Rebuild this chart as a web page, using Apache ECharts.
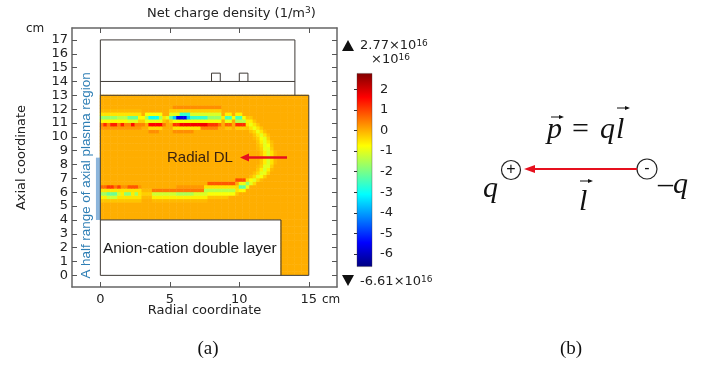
<!DOCTYPE html>
<html>
<head>
<meta charset="utf-8">
<script src="https://cdn.jsdelivr.net/npm/echarts@6/dist/echarts.min.js"></script>
<style>
html,body{margin:0;padding:0;background:#fff;}
#main{width:701px;height:365px;}
</style>
</head>
<body>
<div id="main"></div>
<script>
// tick labels
var yTicks = [0,1,2,3,4,5,6,7,8,9,10,11,12,13,14,15,16,17];
var xTicks = [0,5,10,15];
var barTicks = [-6,-5,-4,-3,-2,-1,0,1,2];

// field limits (from the colour legend), background is zero charge
var fieldMin = -6.61;
var fieldMax = 2.77;
var background = 0;

// mesh is 0.25 cm: 60 columns, 52 rows, bottom-left is row 0 col 0
var colCount = 60;
var rowCount = 52;

// values: [row, fromCol, toCol, value]
var topBand = [
  [48,21,34,0.3],
  [47,0,11,-0.1],[47,20,34,-0.3],
  [46,0,11,-0.5],[46,13,17,-0.8],[46,20,22,-1],[46,23,25,-2.6],[46,26,34,-1.1],[46,36,37,-0.6],[46,39,40,-0.6],
  [45,0,4,-1.7],[45,5,7,-1.4],[45,8,10,-2.1],[45,11,12,-0.7],[45,13,13,-1.5],[45,14,16,-3],[45,17,17,-1.5],[45,18,18,-0.5],
  [45,19,19,-1],[45,20,20,-2.3],[45,21,21,-3.6],[45,22,24,-5.6],[45,25,25,-3.6],[45,26,30,-2.6],[45,31,34,-1.7],[45,35,35,-0.6],
  [45,36,37,-2.4],[45,38,38,-0.8],[45,39,40,-2.4],[45,41,41,-0.8],
  [44,0,3,-0.7],[44,4,7,-0.7],[44,8,10,-1],[44,11,12,-0.3],[44,13,17,-0.9],[44,18,18,-0.2],[44,20,20,-0.4],[44,21,34,-0.8],[44,36,37,-0.9],[44,39,41,-1.4],
  [43,0,12,0.4],[43,1,1,1.2],[43,3,4,1.3],[43,6,6,1.3],[43,9,9,1.5],[43,14,17,1.6],[43,18,18,0.5],[43,21,22,1.1],[43,23,30,1.7],
  [43,31,33,1.1],[43,34,34,0.6],[43,36,37,0.7],[43,39,41,1.2],
  [42,0,11,0.2],[42,14,17,-0.4],[42,21,28,-0.5],[42,29,33,0.4],[42,36,37,-0.2],[42,39,41,-0.3],
  [41,14,16,0.3],[41,21,26,0.3]
];
var arcBand = [
  [45,42,43,-0.2],
  [44,42,43,-0.6],[44,44,44,-0.2],
  [43,42,42,-0.5],[43,43,43,-0.9],[43,44,44,-0.5],[43,45,45,-0.2],
  [42,42,42,-0.2],[42,43,43,-0.5],[42,44,44,-0.9],[42,45,45,-0.5],[42,46,46,-0.2],
  [41,43,43,-0.2],[41,44,44,-0.4],[41,45,45,-0.9],[41,46,46,-0.5],[41,47,47,-0.15],
  [40,44,44,-0.2],[40,45,45,-0.5],[40,46,46,-1],[40,47,47,-0.5],[40,48,48,-0.15],
  [39,44,44,-0.1],[39,45,45,-0.3],[39,46,46,-0.8],[39,47,47,-1],[39,48,48,-0.3],
  [38,45,45,-0.2],[38,46,46,-0.6],[38,47,47,-1],[38,48,48,-0.5],[38,49,49,-0.15],
  [37,45,45,-0.15],[37,46,46,-0.4],[37,47,47,-1],[37,48,48,-0.8],[37,49,49,-0.2],
  [36,45,45,-0.1],[36,46,46,-0.3],[36,47,47,-0.9],[36,48,48,-1],[36,49,49,-0.3],
  [35,46,46,-0.2],[35,47,47,-0.6],[35,48,48,-1.1],[35,49,49,-0.5],[35,50,50,-0.1],
  [34,46,46,-0.2],[34,47,47,-0.6],[34,48,48,-1.1],[34,49,49,-0.5],[34,50,50,-0.1],
  [33,46,46,-0.2],[33,47,47,-0.6],[33,48,48,-1.1],[33,49,49,-0.5],[33,50,50,-0.1],
  [32,46,46,-0.2],[32,47,47,-0.6],[32,48,48,-1.1],[32,49,49,-0.5],[32,50,50,-0.1],
  [31,45,45,-0.1],[31,46,46,-0.3],[31,47,47,-1],[31,48,48,-1],[31,49,49,-0.3],
  [30,45,45,-0.2],[30,46,46,-0.6],[30,47,47,-1.1],[30,48,48,-0.6],[30,49,49,-0.1],
  [29,44,44,-0.15],[29,45,45,-0.4],[29,46,46,-1],[29,47,47,-0.9],[29,48,48,-0.3],
  [28,43,43,-0.15],[28,44,44,-0.4],[28,45,45,-1],[28,46,46,-0.8],[28,47,47,-0.3],
  [27,39,41,0.9],[27,42,42,-0.4],[27,43,43,-0.8],[27,44,44,-1],[27,45,45,-0.4],[27,46,46,-0.1]
];
var bottomBand = [
  [26,31,38,0.8],[26,40,41,-0.9],[26,42,42,-1.7],[26,43,43,-1],[26,44,44,-0.4],
  [25,0,1,0.6],[25,2,3,1.1],[25,4,4,0.5],[25,5,5,1],[25,6,7,0.3],[25,8,10,0.8],[25,11,11,0.2],[25,22,29,0.2],[25,30,38,-0.5],[25,39,39,-0.4],[25,40,41,-2.2],[25,42,42,-0.9],
  [24,0,11,-0.5],[24,12,14,-0.1],[24,15,29,0.5],[24,30,38,-1.4],[24,39,39,-0.5],[24,40,41,-0.7],
  [23,0,1,-1.6],[23,2,4,-2.1],[23,5,5,-1.2],[23,6,6,-0.6],[23,7,8,-1.8],[23,9,9,-0.6],[23,10,10,-1.6],[23,11,11,-0.5],[23,12,14,-0.3],
  [23,15,21,-1.2],[23,22,26,-1.5],[23,27,30,-1.1],[23,31,38,-0.8],[23,39,39,-0.2],
  [22,0,1,-0.6],[22,2,4,-1.2],[22,5,11,-0.5],[22,12,14,-0.1],[22,15,30,-0.6],[22,31,36,-0.2],
  [21,0,11,-0.2],[21,15,30,-0.1]
];

// geometry outlines in cm
var chamberBox = [[0,13],[0,17],[14,17],[14,13]];
var chamberFloor = [[0,14],[14,14]];
var tabLeft = [[8,14],[8,14.6],[8.63,14.6],[8.63,14]];
var tabRight = [[10,14],[10,14.6],[10.62,14.6],[10.62,14]];
var plasmaOutline = [[0,4],[0,13],[15,13],[15,0],[0,0],[0,4],[13,4],[13,0]];
var halfRange = [[-0.16,4],[-0.16,8.5]];

var jet = ['#000080','#0000ff','#0080ff','#00ffff','#80ff80','#ffff00','#ff8000','#ff0000','#800000'];

function buildField() {
  var grid = [], r, c;
  for (r = 0; r < rowCount; r++) {
    grid.push([]);
    for (c = 0; c < colCount; c++) grid[r].push(background);
  }
  topBand.concat(arcBand, bottomBand).forEach(function (run) {
    for (var k = run[1]; k <= run[2]; k++) grid[run[0]][k] = run[3];
  });
  var out = [];
  for (r = 0; r < rowCount; r++) {
    for (c = 0; c < colCount; c++) {
      // the double layer box (x<13, y<4) is not part of the plasma domain
      if (c < 52 && r < 16) continue;
      out.push([c, r, grid[r][c]]);
    }
  }
  return out;
}

function seq(n) {
  var a = [];
  for (var i = 0; i < n; i++) a.push(i);
  return a;
}

function outline(data) {
  return {
    type: 'line', xAxisIndex: 1, yAxisIndex: 1, data: data, symbol: 'none', z: 5,
    clip: false, silent: true, animation: false,
    lineStyle: {color: '#3f3a36', width: 1}
  };
}

// small arrow over the maths letters
function overArrow(x, y, len) {
  return [
    {type: 'line', shape: {x1: x, y1: y, x2: x + len - 3, y2: y}, style: {stroke: '#111', lineWidth: 1}},
    {type: 'polygon', shape: {points: [[x + len, y], [x + len - 5, y - 2], [x + len - 5, y + 2]]}, style: {fill: '#111'}}
  ];
}

function redArrow(x1, x2, y, w, hl, hw) {
  return [
    {type: 'line', shape: {x1: x1, y1: y, x2: x2 + hl - 1, y2: y}, style: {stroke: '#e6101e', lineWidth: w}},
    {type: 'polygon', shape: {points: [[x2, y], [x2 + hl, y - hw], [x2 + hl, y + hw]]}, style: {fill: '#e6101e'}}
  ];
}

function label(x, y, text, size, extra) {
  var st = {x: x, y: y, text: text, fill: '#222', font: size + 'px "DejaVu Sans"', textVerticalAlign: 'middle'};
  for (var k in (extra || {})) st[k] = extra[k];
  return {type: 'text', style: st};
}

function serif(x, y, text, size, italic, align) {
  return {type: 'text', style: {
    x: x, y: y, text: text, fill: '#111', textAlign: align || 'left', textVerticalAlign: 'bottom',
    font: (italic ? 'italic ' : '') + size + 'px "Liberation Serif"'
  }};
}

var supRich = {
  a: {fontFamily: 'DejaVu Sans', fontSize: 13, fill: '#222', color: '#222'},
  b: {fontFamily: 'DejaVu Sans', fontSize: 9, fill: '#222', color: '#222', verticalAlign: 'top', lineHeight: 8, padding: [0,0,6,0]}
};

var myChart = echarts.init(document.getElementById('main'), null, {renderer: 'canvas'});

var jetStops = jet.map(function (c, i) {
  return {offset: 1 - i / (jet.length - 1), color: c};
}).reverse();

var graphics = [
  label(26, 29, 'cm', 12),
  label(322, 300, 'cm', 12),
  {type: 'rect', shape: {x: 357, y: 73.4, width: 15, height: 193.2},
    style: {fill: new echarts.graphic.LinearGradient(0, 0, 0, 1, jetStops), stroke: 'rgba(70,60,60,0.6)', lineWidth: 0.6}},
  {type: 'text', style: {x: 360, y: 46, text: '{a|2.77×10}{b|16}', rich: supRich, textVerticalAlign: 'middle'}},
  {type: 'text', style: {x: 371, y: 60, text: '{a|×10}{b|16}', rich: supRich, textVerticalAlign: 'middle'}},
  {type: 'text', style: {x: 360, y: 282, text: '{a|-6.61×10}{b|16}', rich: supRich, textVerticalAlign: 'middle'}},
  {type: 'polygon', shape: {points: [[348,40],[342,51],[354,51]]}, style: {fill: '#111'}},
  {type: 'polygon', shape: {points: [[342,275],[354,275],[348,286]]}, style: {fill: '#111'}},
  {type: 'text', rotation: Math.PI / 2, x: 86, y: 175.5, style: {
    x: 0, y: 0, text: 'A half range of axial plasma region', fill: '#2f7fb5',
    font: '13.4px "Liberation Sans"', textAlign: 'center', textVerticalAlign: 'middle'
  }},
  label(103, 249, 'Anion-cation double layer', 15, {font: '15.4px "Liberation Sans"', fill: '#1a1a1a'}),
  label(167, 158, 'Radial DL', 15, {font: '15px "Liberation Sans"', fill: '#3a2210'}),
  serif(208, 359, '(a)', 19, false, 'center'),
  serif(571, 359, '(b)', 19, false, 'center'),
  serif(547, 145, 'p', 30, true),
  serif(572, 145, '=', 30, false),
  serif(600, 145, 'q', 30, true),
  serif(616, 145, 'l', 30, true),
  serif(483, 204, 'q', 30, true),
  serif(658, 200, '–q', 30, true),
  serif(579, 217, 'l', 30, true),
  {type: 'circle', shape: {cx: 511, cy: 170, r: 9.5}, style: {fill: '#fff', stroke: '#222', lineWidth: 1.2}},
  {type: 'circle', shape: {cx: 647, cy: 169, r: 10}, style: {fill: '#fff', stroke: '#222', lineWidth: 1.2}},
  {type: 'text', style: {x: 511, y: 170, text: '+', fill: '#111', font: '16px "Liberation Sans"', textAlign: 'center', textVerticalAlign: 'middle'}},
  {type: 'text', style: {x: 647, y: 169, text: '-', fill: '#111', font: '16px "Liberation Sans"', textAlign: 'center', textVerticalAlign: 'middle'}}
].concat(
  overArrow(551, 117, 13), overArrow(617, 108, 13), overArrow(580, 181, 13),
  redArrow(287, 240, 157.5, 2.5, 9, 4), redArrow(637, 524, 169, 2.2, 11, 4)
);
// keep everything above the heatmap
graphics.forEach(function (el) { el.z = 100; });

var option = {
  backgroundColor: '#fff',
  animation: false,
  title: {
    text: '{a|Net charge density (1/m}{b|3}{a|)}',
    left: 147, top: 6, padding: 0,
    textStyle: {
      fontWeight: 'normal',
      rich: {
        a: {fontFamily: 'DejaVu Sans', fontSize: 13, fontWeight: 'normal', color: '#222'},
        b: {fontFamily: 'DejaVu Sans', fontSize: 9, fontWeight: 'normal', color: '#222', verticalAlign: 'top', padding: [0,0,6,0]}
      }
    }
  },
  grid: [
    {left: 100, top: 95, width: 208.5, height: 180, show: false},
    {left: 72, top: 28, width: 265, height: 259, show: false},
    {left: 357, top: 73.4, width: 15, height: 193.2, show: false}
  ],
  xAxis: [
    {type: 'category', gridIndex: 0, data: seq(colCount), show: false},
    {
      type: 'value', gridIndex: 1, min: -2.04, max: 17.03, position: 'bottom',
      name: 'Radial coordinate', nameLocation: 'middle', nameGap: 17, nameMoveOverlap: false,
      nameTextStyle: {fontFamily: 'DejaVu Sans', fontSize: 13, color: '#222'},
      splitLine: {show: false},
      axisLine: {onZero: false, lineStyle: {color: '#666', width: 1.5}},
      axisTick: {inside: true, length: 5, customValues: xTicks, lineStyle: {color: '#555'}},
      axisLabel: {customValues: xTicks, margin: 6, fontFamily: 'DejaVu Sans', fontSize: 13, color: '#222', hideOverlap: false}
    },
    {
      type: 'value', gridIndex: 1, min: -2.04, max: 17.03, position: 'top',
      splitLine: {show: false},
      axisLine: {onZero: false, lineStyle: {color: '#666', width: 1.5}},
      axisTick: {inside: true, length: 5, customValues: xTicks, lineStyle: {color: '#555'}},
      axisLabel: {show: false}
    },
    {type: 'value', gridIndex: 2, min: 0, max: 1, show: false}
  ],
  yAxis: [
    {type: 'category', gridIndex: 0, data: seq(rowCount), show: false},
    {
      type: 'value', gridIndex: 1, min: -0.84, max: 17.86, position: 'left',
      name: 'Axial coordinate', nameLocation: 'middle', nameGap: 44, nameMoveOverlap: false, nameRotate: 90,
      nameTextStyle: {fontFamily: 'DejaVu Sans', fontSize: 13, color: '#222'},
      splitLine: {show: false},
      axisLine: {onZero: false, lineStyle: {color: '#666', width: 1.5}},
      axisTick: {inside: true, length: 5, customValues: yTicks, lineStyle: {color: '#555'}},
      axisLabel: {customValues: yTicks, margin: 4, fontFamily: 'DejaVu Sans', fontSize: 13, color: '#222', hideOverlap: false}
    },
    {
      type: 'value', gridIndex: 1, min: -0.84, max: 17.86, position: 'right',
      splitLine: {show: false},
      axisLine: {onZero: false, lineStyle: {color: '#666', width: 1.5}},
      axisTick: {inside: true, length: 5, customValues: yTicks, lineStyle: {color: '#555'}},
      axisLabel: {show: false}
    },
    {
      type: 'value', gridIndex: 2, min: fieldMin, max: fieldMax, position: 'right', z: 200,
      splitLine: {show: false},
      axisLine: {show: false},
      axisTick: {inside: true, length: 3, customValues: barTicks, lineStyle: {color: '#333'}},
      axisLabel: {customValues: barTicks, margin: 8, fontFamily: 'DejaVu Sans', fontSize: 13, color: '#222', hideOverlap: false}
    }
  ],
  visualMap: {
    type: 'continuous', show: false, seriesIndex: 0, min: fieldMin, max: fieldMax,
    inRange: {color: jet}
  },
  series: [
    {
      type: 'heatmap', xAxisIndex: 0, yAxisIndex: 0, data: buildField(), z: 1,
      progressive: 0, silent: true,
      itemStyle: {borderWidth: 0}
    },
    outline(chamberBox),
    outline(chamberFloor),
    outline(tabLeft),
    outline(tabRight),
    outline(plasmaOutline),
    {
      type: 'line', xAxisIndex: 1, yAxisIndex: 1, data: halfRange, symbol: 'none', z: 4, clip: false,
      silent: true, lineStyle: {color: '#8db6dc', width: 4.4, cap: 'butt'}
    }
  ],
  graphic: {elements: graphics}
};

myChart.setOption(option);
</script>
</body>
</html>
